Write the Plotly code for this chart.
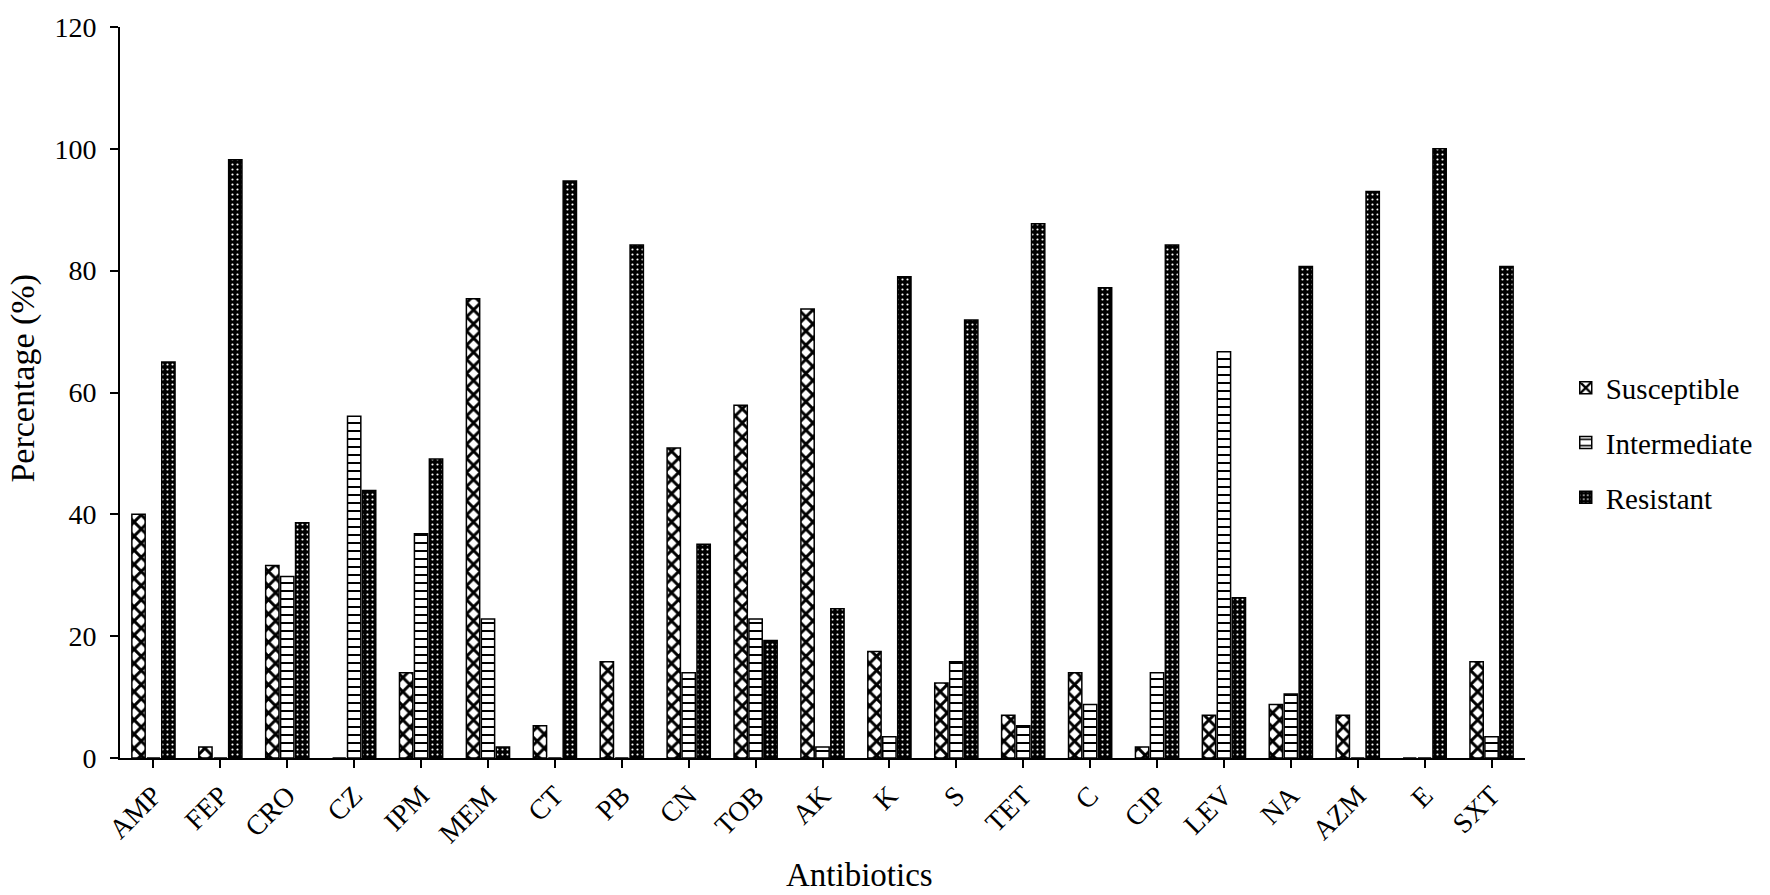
import plotly.graph_objects as go

categories = ["AMP", "FEP", "CRO", "CZ", "IPM", "MEM", "CT", "PB", "CN", "TOB", "AK",
              "K", "S", "TET", "C", "CIP", "LEV", "NA", "AZM", "E", "SXT"]
susceptible = [40.0, 1.8, 31.6, 0, 14.0, 75.4, 5.3, 15.8, 50.9, 57.9, 73.7,
               17.5, 12.3, 7.0, 14.0, 1.8, 7.0, 8.8, 7.0, 0, 15.8]
intermediate = [0, 0, 29.8, 56.1, 36.8, 22.8, 0, 0, 14.0, 22.8, 1.8,
                3.5, 15.8, 5.3, 8.8, 14.0, 66.7, 10.5, 0, 0, 3.5]
resistant = [65.0, 98.2, 38.6, 43.9, 49.1, 1.8, 94.7, 84.2, 35.1, 19.3, 24.5,
             79.0, 71.9, 87.7, 77.2, 84.2, 26.3, 80.7, 93.0, 100.0, 80.7]
series_names = ["Susceptible", "Intermediate", "Resistant"]
y_ticks = [0, 20, 40, 60, 80, 100, 120]
x_title = "Antibiotics"
y_title = "Percentage (%)"

FONT = "Liberation Serif, Times New Roman, serif"

fig = go.Figure()
fig.add_trace(go.Bar(
    name=series_names[0], x=categories, y=susceptible, legendgroup="s",
    marker=dict(color="white", line=dict(color="black", width=1.5),
                pattern=dict(shape="x", fgcolor="black", bgcolor="white",
                             size=10, solidity=0.5, fillmode="replace")),
))
fig.add_trace(go.Bar(
    name=series_names[1], x=categories, y=intermediate, legendgroup="i",
    marker=dict(color="white", line=dict(color="black", width=1.5),
                pattern=dict(shape="-", fgcolor="black", bgcolor="white",
                             size=8, solidity=0.25, fillmode="replace")),
))
fig.add_trace(go.Bar(
    name=series_names[2], x=categories, y=resistant, legendgroup="r",
    marker=dict(color="black", line=dict(color="black", width=1.5),
                pattern=dict(shape=".", fgcolor="white", bgcolor="black",
                             size=5, solidity=0.15, fillmode="replace")),
))

fig.update_layout(
    width=1770, height=895,
    barmode="group", bargap=0.33, bargroupgap=0.11,
    plot_bgcolor="white", paper_bgcolor="white",
    font=dict(family=FONT, color="black", size=28),
    margin=dict(l=120, r=235, t=17, b=137),
    legend=dict(x=1.029, y=0.431, yanchor="middle", xanchor="left",
                font=dict(family=FONT, size=29, color="black"),
                tracegroupgap=14),
    xaxis=dict(
        showline=True, linecolor="black", linewidth=2,
        ticks="outside", ticklen=8, tickcolor="black", tickwidth=2,
        tickangle=-45, tickfont=dict(family=FONT, size=28),
        showgrid=False,
    ),
    yaxis=dict(
        range=[0, 120], tickvals=y_ticks,
        showline=True, linecolor="black", linewidth=2,
        ticks="outside", ticklen=8, tickcolor="black", tickwidth=2,
        tickfont=dict(family=FONT, size=28), ticklabelstandoff=8,
        ticklabeloverflow="allow",
        showgrid=False, zeroline=False,
    ),
    annotations=[
        dict(text=x_title, xref="paper", yref="paper", x=0.526, y=0,
             xanchor="center", yanchor="middle", yshift=-117, showarrow=False,
             font=dict(family=FONT, size=33, color="black")),
        dict(text=y_title, xref="paper", yref="paper", x=0, y=0.519,
             xanchor="center", yanchor="middle", xshift=-97, showarrow=False,
             textangle=-90, font=dict(family=FONT, size=34, color="black")),
    ],
)

fig.write_html("out.html", config={"displayModeBar": False},
               post_script="document.body.style.margin='0px';")
